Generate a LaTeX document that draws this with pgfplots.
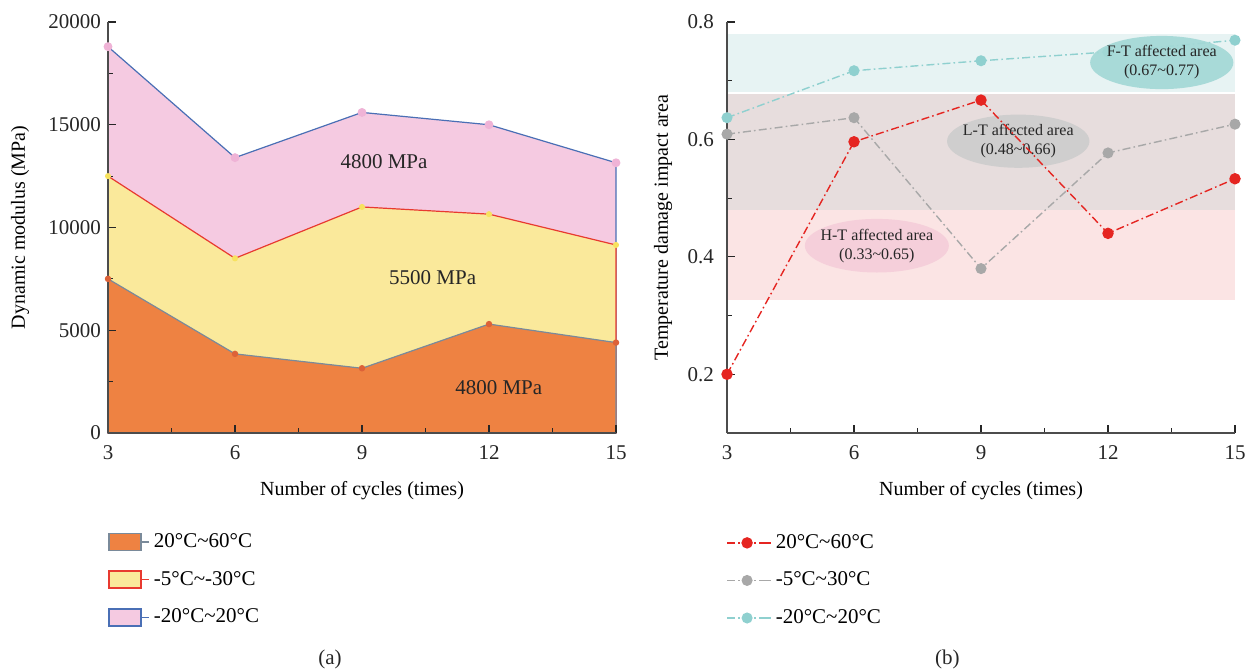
\documentclass[border=0pt]{standalone}
\usepackage{fontspec}
\setmainfont{Liberation Serif}
\usepackage{pgfplots}
\pgfplotsset{compat=1.18}
\definecolor{cOrange}{HTML}{EE8242}
\definecolor{cOrangeM}{HTML}{DD6238}
\definecolor{cGreyB}{HTML}{7A8A9A}
\definecolor{cYellow}{HTML}{FAE99B}
\definecolor{cYellowM}{HTML}{F7E25E}
\definecolor{cRedL}{HTML}{E83A30}
\definecolor{cPink}{HTML}{F5CAE1}
\definecolor{cPinkM}{HTML}{EFB3D6}
\definecolor{cBlue}{HTML}{4A6FB5}
\definecolor{cRed}{HTML}{E52521}
\definecolor{cGrey}{HTML}{A8A8A8}
\definecolor{cCyan}{HTML}{8FD0CF}
\definecolor{cBandC}{HTML}{E7F3F3}
\definecolor{cBandG}{HTML}{E7DDDD}
\definecolor{cBandP}{HTML}{FBE4E4}
\definecolor{cEllC}{HTML}{A3D8D6}
\definecolor{cEllG}{HTML}{CDCDCD}
\definecolor{cEllP}{HTML}{F5CDD9}
\newcommand{\fs}{\fontsize{10.5}{12}\selectfont}
\pgfplotsset{
  mystyle/.style={
    scale only axis, width=254pt, height=205.5pt, clip=false, axis on top=true,
    axis x line*=bottom, axis y line*=left,
    xmin=3, xmax=15, xtick={3,6,9,12,15}, minor x tick num=1,
    tick align=inside, major tick length=4pt, minor tick length=2.5pt,
    tick style={black!85, line width=0.6pt},
    axis line style={black!70, line width=0.7pt},
    ticklabel style={font=\fs, text=black!85},
    xticklabel style={yshift=-3pt},
    /pgf/number format/assume math mode=true,
    label style={font=\fs, text=black!85},
    every axis x label/.style={at={(axis description cs:0.5,-0.139)}, anchor=center},
    legend cell align=left,
    legend style={anchor=north west, draw=none, fill=none, font=\fs,
      row sep=6.3pt, inner sep=0pt, nodes={inner sep=2pt}},
  },
  mydd/.style={dash pattern=on 4pt off 1.6pt on 0.8pt off 1.6pt, line width=0.7pt},
}
\begin{document}
\begin{tikzpicture}
% ---------------- (a) ----------------
\begin{axis}[mystyle, at={(54pt,118pt)}, anchor=south west,
  ymin=0, ymax=20000, ytick={0,5000,10000,15000,20000}, minor y tick num=1,
  scaled y ticks=false,
  yticklabel style={/pgf/number format/.cd, set thousands separator={}, fixed},
  xlabel={Number of cycles (times)},
  ylabel={Dynamic modulus (MPa)},
  every axis y label/.style={at={(axis description cs:-0.173,0.5)}, rotate=90, anchor=center},
  legend style={at={(axis description cs:0,-0.234)}},
  reverse legend,
  legend image code/.code={\draw[#1, line width=0.9pt] (0pt,-4.25pt) rectangle (16pt,4.25pt); \path (16pt,0pt) -- (20pt,0pt);},
]
\addplot[draw=cBlue, line width=0.6pt, fill=cPink, mark=*, mark size=1.9pt,
  mark options={draw=cPinkM, fill=cPinkM}]
  coordinates {(3,18800) (6,13400) (9,15600) (12,15000) (15,13150)} \closedcycle;
\addlegendentry{-20°C\textasciitilde 20°C}
\addplot[draw=cRedL, line width=0.6pt, fill=cYellow, mark=*, mark size=1.2pt,
  mark options={draw=cYellowM, fill=cYellowM}]
  coordinates {(3,12500) (6,8500) (9,11000) (12,10650) (15,9150)} \closedcycle;
\addlegendentry{-5°C\textasciitilde -30°C}
\addplot[draw=cGreyB, line width=0.6pt, fill=cOrange, mark=*, mark size=1.3pt,
  mark options={draw=cOrangeM, fill=cOrangeM}]
  coordinates {(3,7500) (6,3850) (9,3150) (12,5300) (15,4400)} \closedcycle;
\addlegendentry{20°C\textasciitilde 60°C}
\node[font=\fs, text=black!85] at (axis cs:9.52,13200) {4800 MPa};
\node[font=\fs, text=black!85] at (axis cs:10.67,7580) {5500 MPa};
\node[font=\fs, text=black!85] at (axis cs:12.23,2190) {4800 MPa};
\node[font=\fs, text=black!85] at (axis description cs:0.437,-0.55) {(a)};
\end{axis}
% ---------------- (b) ----------------
\begin{axis}[mystyle, at={(363.5pt,118pt)}, anchor=south west,
  ymin=0.1, ymax=0.8, ytick={0.2,0.4,0.6,0.8}, minor y tick num=1,
  yticklabel style={xshift=-3pt, /pgf/number format/.cd, fixed, fixed zerofill, precision=1},
  xlabel={Number of cycles (times)},
  ylabel={Temperature damage impact area},
  every axis y label/.style={at={(axis description cs:-0.126,0.5)}, rotate=90, anchor=center},
  legend style={at={(axis description cs:-0.002,-0.236)}},
  legend image code/.code={\draw[mark repeat=2,mark phase=2,#1] plot coordinates {(0pt,0pt) (10pt,0pt) (20pt,0pt)}; \path (20pt,0pt) -- (22pt,0pt);},
]
\fill[cBandC] (axis cs:3,0.681) rectangle (axis cs:15,0.780);
\fill[cBandG] (axis cs:3,0.480) rectangle (axis cs:15,0.678);
\fill[cBandP] (axis cs:3,0.326) rectangle (axis cs:15,0.480);
\fill[cEllG, opacity=0.9] (axis cs:9.88,0.597) ellipse [x radius=35.6pt, y radius=13.3pt];
\fill[cEllP, opacity=0.9] (axis cs:6.54,0.419) ellipse [x radius=36pt, y radius=13.4pt];
\node[font=\fontsize{8}{9.5}\selectfont, align=center, text=black!85] at (axis cs:9.88,0.597) {L-T affected area\\(0.48\textasciitilde 0.66)};
\node[font=\fontsize{8}{9.5}\selectfont, align=center, text=black!85] at (axis cs:6.54,0.419) {H-T affected area\\(0.33\textasciitilde 0.65)};
\addplot[cRed, mydd, mark=*, mark size=2.5pt, mark options={solid, draw=cRed, fill=cRed}]
  coordinates {(3,0.200) (6,0.596) (9,0.667) (12,0.440) (15,0.533)};
\addlegendentry{20°C\textasciitilde 60°C}
\addplot[cGrey, mydd, mark=*, mark size=2.4pt, mark options={solid, draw=cGrey, fill=cGrey}]
  coordinates {(3,0.609) (6,0.637) (9,0.380) (12,0.577) (15,0.626)};
\addlegendentry{-5°C\textasciitilde 30°C}
\addplot[cCyan, mydd, mark=*, mark size=2.4pt, mark options={solid, draw=cCyan, fill=cCyan}]
  coordinates {(3,0.637) (6,0.717) (9,0.734) (12,0.749) (15,0.769)};
\addlegendentry{-20°C\textasciitilde 20°C}
\node[font=\fs, text=black!85] at (axis description cs:0.434,-0.55) {(b)};
\coordinate (FT) at (axis cs:13.27,0.731);
\end{axis}
% F-T annotation drawn on top of the cyan series
\fill[cEllC, opacity=0.92] (FT) ellipse [x radius=35.8pt, y radius=13.3pt];
\node[font=\fontsize{8}{9.5}\selectfont, align=center, text=black!85] at (FT) {F-T affected area\\(0.67\textasciitilde 0.77)};
\pgfresetboundingbox
\path (0,0) rectangle (628.5pt,334.5pt);
\end{tikzpicture}
\end{document}
